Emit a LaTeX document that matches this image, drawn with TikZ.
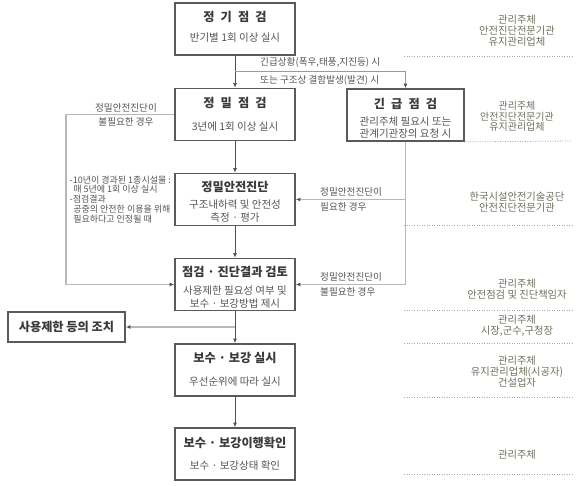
\documentclass[tikz,border=0pt]{standalone}
\usepackage{fontspec}
\setmainfont{Noto Sans CJK KR}
\usetikzlibrary{arrows.meta}
\definecolor{boxline}{HTML}{5A5A5A}
\definecolor{titletext}{HTML}{3A3A3A}
\definecolor{bodytext}{HTML}{555555}
\definecolor{lightline}{HTML}{B8B8B8}
\definecolor{midline}{HTML}{9A9A9A}
\definecolor{darkline}{HTML}{505050}
\definecolor{sidetext}{HTML}{6E6E5E}
\definecolor{dotline}{HTML}{A8A8A8}
\newcommand\gs{\hspace{0.5em}}
\begin{document}
\begin{tikzpicture}[x=1pt,y=-1pt,
  procbox/.style={draw=boxline,line width=1.8pt,minimum width=120pt,minimum height=52pt,inner sep=0pt},
  ttlnode/.style={font=\fontsize{12.2}{14}\selectfont\bfseries,text=titletext,inner sep=0pt},
  subnode/.style={font=\fontsize{10.5}{12.5}\selectfont,text=bodytext,inner sep=0pt,align=center},
  mainarrow/.style={draw=darkline,line width=0.8pt,-{Latex[length=4.5pt,width=4pt]}},
  thinarrow/.style={draw=midline,line width=0.9pt,-{Latex[length=4.5pt,width=4pt,color=darkline]}},
  grayarrow/.style={draw=lightline,line width=1.6pt,-{Latex[length=4.5pt,width=4pt,color=darkline]}},
  lbl/.style={font=\fontsize{9.6}{10}\selectfont,text=bodytext,inner sep=0pt},
  sidetxt/.style={font=\fontsize{10.3}{11}\selectfont,text=sidetext,align=center,inner sep=0pt},
  dotsep/.style={draw=dotline,line width=0.8pt,dash pattern=on 1pt off 1.5pt}]
\useasboundingbox (0,0) rectangle (581,485);

% boxes
\node[procbox] (reg) at (235,29) {};
\node[procbox] (prec) at (235,114.5) {};
\node[procbox,minimum width=117pt] (emer) at (405.5,115) {};
\node[procbox] (diag) at (235,199.5) {};
\node[procbox] (review) at (235,284.5) {};
\node[procbox,minimum width=117pt,minimum height=30pt] (restrict) at (66.5,327) {};
\node[procbox] (repair) at (235,370) {};
\node[procbox] (confirm) at (235,454) {};

% box texts
\node[ttlnode] (regT) at (235,17) {정\gs 기\gs 점\gs 검};
\node[subnode] (regS) at (235,38) {반기별 1회 이상 실시};
\node[ttlnode] (precT) at (235,103) {정\gs 밀\gs 점\gs 검};
\node[subnode] (precS) at (235,127) {3년에 1회 이상 실시};
\node[ttlnode] (emerT) at (405.5,104) {긴\gs 급\gs 점\gs 검};
\node[subnode] (emerS) at (405.5,127.5) {관리주체 필요시 또는\\관계기관장의 요청 시};
\node[ttlnode] (diagT) at (235,187) {정밀안전진단};
\node[subnode] (diagS) at (235,211) {구조내하력 및 안전성\\측정 · 평가};
\node[ttlnode] (reviewT) at (235,272) {점검 · 진단결과 검토};
\node[subnode] (reviewS) at (235,297) {사용제한 필요성 여부 및\\보수 · 보강방법 제시};
\node[ttlnode] (restrictT) at (66.5,327) {사용제한 등의 조치};
\node[ttlnode] (repairT) at (235,358) {보수 · 보강 실시};
\node[subnode] (repairS) at (235,382) {우선순위에 따라 실시};
\node[ttlnode] (confirmT) at (235,443) {보수 · 보강이행확인};
\node[subnode] (confirmS) at (235,466) {보수 · 보강상태 확인};

% connectors
\draw[mainarrow] (reg) -- (prec);
\coordinate (brA) at (235,71);
\draw[thinarrow] (brA) -| (emer.north);
\draw[mainarrow] (prec) -- (diag);
\draw[mainarrow] (diag) -- (review);
\coordinate (loopL) at (66,114.5);
\draw[grayarrow] (prec.west) -- (loopL) |- (review.west);
\draw[grayarrow] (emer.south) |- (review.east);
\draw[grayarrow] (emer.south |- diag.east) -- (diag.east);
\draw[mainarrow] (review) -- (repair);
\draw[grayarrow] (review.south |- restrict.east) -- (restrict.east);
\draw[mainarrow] (repair) -- (confirm);

% connector labels
\node[lbl,anchor=west] (lA1) at (260,62) {긴급상황(폭우,태풍,지진등) 시};
\node[lbl,anchor=west] (lA2) at (260,80) {또는 구조상 결함발생(발견) 시};
\node[lbl] (lB1) at (126,108) {정밀안전진단이};
\node[lbl] (lB2) at (126,122) {불필요한 경우};
\node[lbl,anchor=west] (lC1) at (320,192) {정밀안전진단이};
\node[lbl,anchor=west] (lC2) at (320,207) {필요한 경우};
\node[lbl,anchor=west] (lD1) at (320,277) {정밀안전진단이};
\node[lbl,anchor=west] (lD2) at (320,292) {불필요한 경우};
\node[lbl,anchor=north west,align=left,font=\fontsize{9}{9.8}\selectfont] (note) at (69.5,175.5)
  {-10년이 경과된 1종시설물 :\\\hspace*{0.4em}매 5년에 1회 이상 실시\\-점검결과\\\hspace*{0.4em}공중의 안전한 이용을 위해\\\hspace*{0.4em}필요하다고 인정될 때};

% right column
\node[sidetxt] (s1) at (517,31) {관리주체\\안전진단전문기관\\유지관리업체};
\node[sidetxt,font=\fontsize{10}{10.6}\selectfont] (s2) at (517,116.5) {관리주체\\안전진단전문기관\\유지관리업체};
\node[sidetxt] (s3) at (517,202.5) {한국시설안전기술공단\\안전진단전문기관};
\node[sidetxt] (s4) at (517,289) {관리주체\\안전점검 및 진단책임자};
\node[sidetxt] (s5) at (517,325.5) {관리주체\\시장,군수,구청장};
\node[sidetxt] (s6) at (517,372) {관리주체\\유지관리업체(시공자)\\건설업자};
\node[sidetxt] (s7) at (517,455) {관리주체};

\draw[dotsep] (404,56) -- (572,56);
\draw[dotsep] (emer.south east) -- (572,141);
\draw[dotsep] (404,225) -- (572,225);
\draw[dotsep] (404,310) -- (572,310);
\draw[dotsep] (404,343) -- (572,343);
\draw[dotsep] (404,397) -- (572,397);
\draw[dotsep] (404,474) -- (572,474);
\end{tikzpicture}
\end{document}
